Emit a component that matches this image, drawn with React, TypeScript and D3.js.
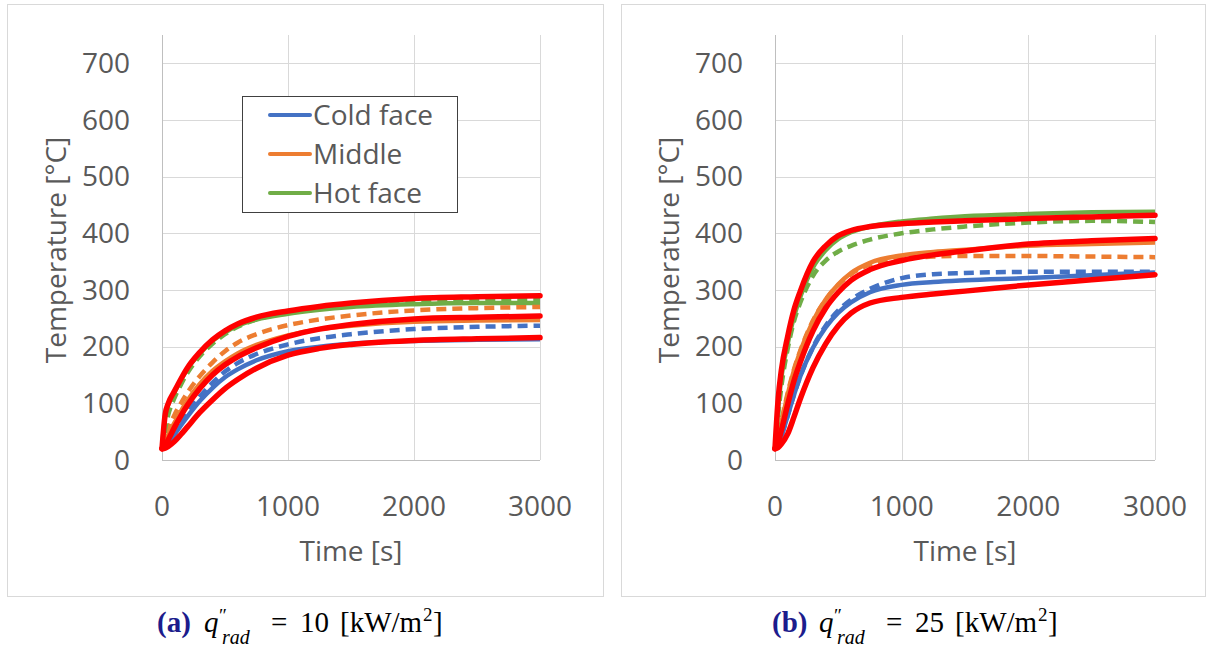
import React from 'react';
import * as d3 from 'd3';

// ---------- data ----------
const TIMES = [0, 25, 50, 100, 150, 200, 300, 400, 500, 600, 750, 1000, 1250, 1500, 2000, 2500, 3000];
const Y_TICKS = [0, 100, 200, 300, 400, 500, 600, 700];
const X_TICKS = [0, 1000, 2000, 3000];
const LEGEND_LABELS = ['Cold face', 'Middle', 'Hot face'];

// panel (a) q = 10 kW/m2
const A_COLD_SOLID = [20, 22, 29, 45, 61, 76, 104, 127, 146, 160, 176, 192, 200, 205, 210, 212, 213];
const A_COLD_DASHED = [20, 24, 32, 50, 68, 84, 112, 136, 156, 171, 187, 204, 215, 222, 231, 235, 237];
const A_MID_SOLID = [20, 32, 45, 66, 86, 104, 134, 157, 174, 188, 203, 220, 231, 237, 244, 246, 247];
const A_MID_DASHED = [20, 40, 55, 80, 100, 118, 148, 172, 192, 207, 222, 238, 248, 255, 264, 268, 270];
const A_HOT_SOLID = [20, 78, 98, 120, 141, 160, 188, 210, 225, 237, 248, 258, 265, 270, 275, 277, 277];
const A_HOT_DASHED = [20, 55, 80, 110, 133, 153, 183, 205, 222, 235, 248, 260, 268, 274, 280, 282, 283];
const A_MODEL_COLD = [20, 21, 24, 33, 45, 58, 84, 106, 126, 142, 162, 185, 197, 204, 211, 214, 216];
const A_MODEL_MID = [20, 26, 36, 58, 78, 96, 126, 150, 168, 182, 198, 218, 231, 239, 249, 252, 254];
const A_MODEL_HOT = [20, 80, 100, 122, 143, 162, 190, 212, 228, 240, 252, 263, 271, 277, 285, 288, 290];

// panel (b) q = 25 kW/m2
const B_COLD_SOLID = [20, 28, 42, 78, 115, 148, 198, 234, 260, 278, 296, 309, 314, 317, 321, 326, 331];
const B_COLD_DASHED = [20, 28, 42, 78, 115, 148, 199, 237, 264, 283, 302, 321, 328, 330, 332, 332, 332];
const B_MID_SOLID = [20, 40, 65, 115, 158, 192, 245, 283, 310, 330, 348, 361, 367, 371, 378, 381, 384];
const B_MID_DASHED = [20, 42, 68, 118, 160, 193, 246, 283, 309, 328, 345, 355, 359, 360, 360, 359, 358];
const B_HOT_SOLID = [20, 90, 145, 205, 253, 288, 340, 370, 390, 402, 412, 421, 426, 430, 434, 437, 438];
const B_HOT_DASHED = [20, 80, 129, 196, 245, 278, 325, 352, 368, 378, 389, 400, 407, 412, 419, 422, 420];
const B_MODEL_COLD = [20, 22, 28, 46, 76, 108, 163, 205, 237, 259, 277, 287, 293, 298, 309, 318, 327];
const B_MODEL_MID = [20, 32, 52, 98, 140, 173, 228, 268, 296, 317, 336, 352, 362, 369, 381, 387, 391];
const B_MODEL_HOT = [20, 108, 158, 218, 265, 298, 350, 378, 396, 405, 412, 417, 420, 422, 426, 429, 432];

const BLUE = '#4472C4';
const ORANGE = '#ED7D31';
const GREEN = '#70AD47';
const RED = '#FF0000';
const TEXT = '#595959';
const GRID = '#d9d9d9';
const FONT = "'Open Sans', sans-serif";
const SERIF = "'Liberation Serif', 'DejaVu Serif', serif";

type PanelData = {
  coldSolid: number[]; coldDashed: number[];
  midSolid: number[]; midDashed: number[];
  hotSolid: number[]; hotDashed: number[];
  modelCold: number[]; modelMid: number[]; modelHot: number[];
};

const PANEL_A: PanelData = {
  coldSolid: A_COLD_SOLID, coldDashed: A_COLD_DASHED,
  midSolid: A_MID_SOLID, midDashed: A_MID_DASHED,
  hotSolid: A_HOT_SOLID, hotDashed: A_HOT_DASHED,
  modelCold: A_MODEL_COLD, modelMid: A_MODEL_MID, modelHot: A_MODEL_HOT,
};
const PANEL_B: PanelData = {
  coldSolid: B_COLD_SOLID, coldDashed: B_COLD_DASHED,
  midSolid: B_MID_SOLID, midDashed: B_MID_DASHED,
  hotSolid: B_HOT_SOLID, hotDashed: B_HOT_DASHED,
  modelCold: B_MODEL_COLD, modelMid: B_MODEL_MID, modelHot: B_MODEL_HOT,
};

function Panel({ x0, x1, bx0, bx1, data, legend, capX, capLabel, capValue }: {
  x0: number; x1: number; bx0: number; bx1: number; data: PanelData; legend: boolean;
  capX: number; capLabel: string; capValue: string;
}) {
  const x = d3.scaleLinear().domain([0, 3000]).range([x0, x1]);
  const y = d3.scaleLinear().domain([0, 750]).range([460, 35]);
  const line = d3.line<number>()
    .x((_, i) => x(TIMES[i]))
    .y((d) => y(d))
    .curve(d3.curveMonotoneX);

  const solids: [number[], string][] = [
    [data.coldSolid, BLUE], [data.midSolid, ORANGE], [data.hotSolid, GREEN],
  ];
  const dashed: [number[], string][] = [
    [data.coldDashed, BLUE], [data.midDashed, ORANGE], [data.hotDashed, GREEN],
  ];
  const models = [data.modelCold, data.modelMid, data.modelHot];

  return (
    <g>
      <rect x={bx0 + 0.5} y={4.5} width={bx1 - bx0} height={592} fill="white" stroke={GRID} strokeWidth={1} />
      {Y_TICKS.map((t) => (
        <line key={'gy' + t} x1={x0} x2={x1} y1={Math.round(y(t)) + 0.5} y2={Math.round(y(t)) + 0.5}
          stroke={t === 0 ? '#bfbfbf' : GRID} strokeWidth={1} />
      ))}
      {X_TICKS.map((t) => (
        <line key={'gx' + t} x1={Math.round(x(t)) + 0.5} x2={Math.round(x(t)) + 0.5} y1={y(750)} y2={y(0)}
          stroke={t === 0 ? '#bfbfbf' : GRID} strokeWidth={1} />
      ))}
      {Y_TICKS.map((t) => (
        <text key={'ly' + t} x={x0 - 32} y={y(t)} dy="0.35em" textAnchor="end"
          fontFamily={FONT} fontSize={28} fill={TEXT}>{t}</text>
      ))}
      {X_TICKS.map((t) => (
        <text key={'lx' + t} x={x(t)} y={506} dy="0.35em" textAnchor="middle"
          fontFamily={FONT} fontSize={28} fill={TEXT}>{t}</text>
      ))}
      <text transform={`translate(${x0 - 106},250) rotate(-90)`} dy="0.35em" textAnchor="middle"
        fontFamily={FONT} fontSize={28} fill={TEXT}>Temperature [°C]</text>
      <text x={(x0 + x1) / 2} y={551} dy="0.35em" textAnchor="middle"
        fontFamily={FONT} fontSize={28} fill={TEXT}>Time [s]</text>
      {solids.map(([d, c], i) => (
        <path key={'s' + i} d={line(d) || ''} fill="none" stroke={c} strokeWidth={4.5} strokeLinejoin="round" />
      ))}
      {dashed.map(([d, c], i) => (
        <path key={'d' + i} d={line(d) || ''} fill="none" stroke={c} strokeWidth={4.5} strokeDasharray="10 6" />
      ))}
      {models.map((d, i) => (
        <path key={'m' + i} d={line(d) || ''} fill="none" stroke={RED} strokeWidth={5.5} strokeLinejoin="round" strokeLinecap="round" />
      ))}
      {legend && (
        <g>
          <rect x={242.5} y={96.5} width={215} height={116} fill="white" stroke="#404040" strokeWidth={1} />
          {LEGEND_LABELS.map((lab, i) => {
            const yy = 115 + i * 39;
            const col = [BLUE, ORANGE, GREEN][i];
            return (
              <g key={lab}>
                <line x1={270} x2={310} y1={yy} y2={yy} stroke={col} strokeWidth={4} strokeLinecap="round" />
                <text x={313} y={yy} dy="0.35em" fontFamily={FONT} fontSize={28} fill={TEXT}>{lab}</text>
              </g>
            );
          })}
        </g>
      )}
      <text fontFamily={SERIF} fontSize={29} fill="#000" y={632}>
        <tspan x={capX} y={632} fontWeight="bold" fill="#1c1c8c">{capLabel}</tspan>
        <tspan x={capX + 47} y={632} fontStyle="italic">q</tspan>
        <tspan x={capX + 62} y={622} fontSize={19}>″</tspan>
        <tspan x={capX + 65} y={644} fontSize={20} fontStyle="italic">rad</tspan>
        <tspan x={capX + 114} y={632}>=</tspan>
        <tspan x={capX + 143} y={632}>{capValue}</tspan>
        <tspan x={capX + 183} y={632}>[kW/m</tspan>
        <tspan x={capX + 266} y={621} fontSize={19}>2</tspan>
        <tspan x={capX + 276} y={632}>]</tspan>
      </text>
    </g>
  );
}

export default function App() {
  return (
    <svg width={1210} height={649} style={{ position: 'absolute', left: 0, top: 0, background: 'white' }}>
      <rect x={0} y={0} width={1210} height={649} fill="white" />
      <Panel x0={162} x1={540} bx0={7} bx1={603} data={PANEL_A} legend={true}
        capX={157} capLabel="(a)" capValue="10" />
      <Panel x0={775} x1={1155} bx0={621} bx1={1205} data={PANEL_B} legend={false}
        capX={772} capLabel="(b)" capValue="25" />
    </svg>
  );
}
